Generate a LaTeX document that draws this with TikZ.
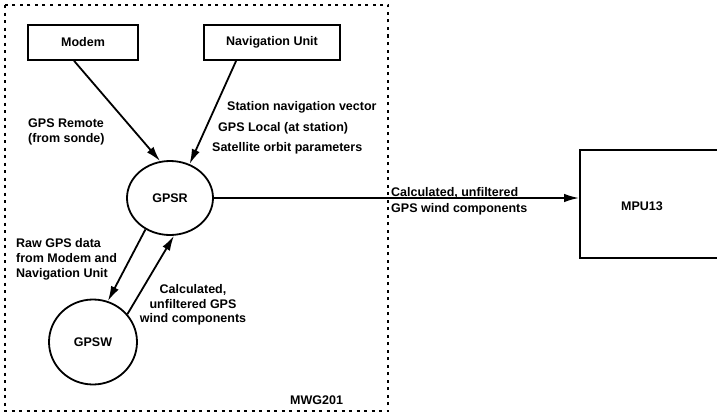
\documentclass[tikz,border=0pt]{standalone}
\usepackage{fontspec}
\setmainfont{Liberation Sans}
\usetikzlibrary{arrows.meta,shapes.geometric,calc}
\begin{document}
\begin{tikzpicture}[x=1pt,y=-1pt,
  font=\bfseries\fontsize{12.5}{15}\selectfont,
  unitbox/.style={draw, line width=1.8pt, minimum height=35pt, inner sep=0pt},
  proc/.style={draw, ellipse, line width=1.8pt, inner sep=0pt},
  arr/.style={line width=1.8pt, -{Latex[length=15pt,width=8.5pt]}},
  lbl/.style={anchor=base west, inner sep=0pt},
  frame/.style={line width=1.3pt, dash pattern=on 3pt off 4.5pt}
]
\useasboundingbox (0,0) rectangle (717,415);
\clip (0,0) rectangle (717,415);

% boundary of the MWG201 process group
\draw[frame] (5,5) rectangle (388,411);

% units and processes
\node[unitbox, minimum width=110pt] (modem) at (83,42.5) {Modem};
\node[unitbox, minimum width=136pt] (nav) at (272,42.5) {Navigation Unit};
\node[proc, minimum width=86pt, minimum height=74pt] (gpsr) at (170,198) {GPSR};
\node[proc, minimum width=88pt, minimum height=85pt] (gpsw) at (93,342) {GPSW};
\node[draw, line width=1.8pt, minimum width=170pt, minimum height=108pt] (mpu) at (665,204) {};
\node (mpulabel) at (642,206) {MPU13};

% data flows
\draw[arr] ($(modem.south west)+(47,0)$) -- (gpsr.105);
\draw[arr] ($(nav.south west)+(33,0)$) -- (gpsr.60);
\draw[arr] (gpsr.east) -- (gpsr.east -| mpu.west);
\draw[arr] (gpsr.232) -- (gpsw.70);
\draw[arr] (gpsw.39) -- (gpsr.276);

% flow labels
\node[lbl] (remote1) at (28,127) {GPS Remote};
\node[lbl] (remote2) at (28,142) {(from sonde)};
\node[lbl] (local1) at (227,110) {Station navigation vector};
\node[lbl] (local2) at (218,131) {GPS Local (at station)};
\node[lbl] (local3) at (212,151) {Satellite orbit parameters};
\node[lbl] (raw1) at (16,247) {Raw GPS data};
\node[lbl] (raw2) at (16,262) {from Modem and};
\node[lbl] (raw3) at (16,277) {Navigation Unit};
\node[align=center, inner sep=0pt, font=\bfseries\fontsize{12.5}{14.5}\selectfont] (calc) at (193,305) {Calculated,\\unfiltered GPS\\wind components};
\node[lbl] (out1) at (391,196) {Calculated, unfiltered};
\node[lbl] (out2) at (391,212) {GPS wind components};
\node[lbl] (group) at (290,404) {MWG201};
\end{tikzpicture}
\end{document}
